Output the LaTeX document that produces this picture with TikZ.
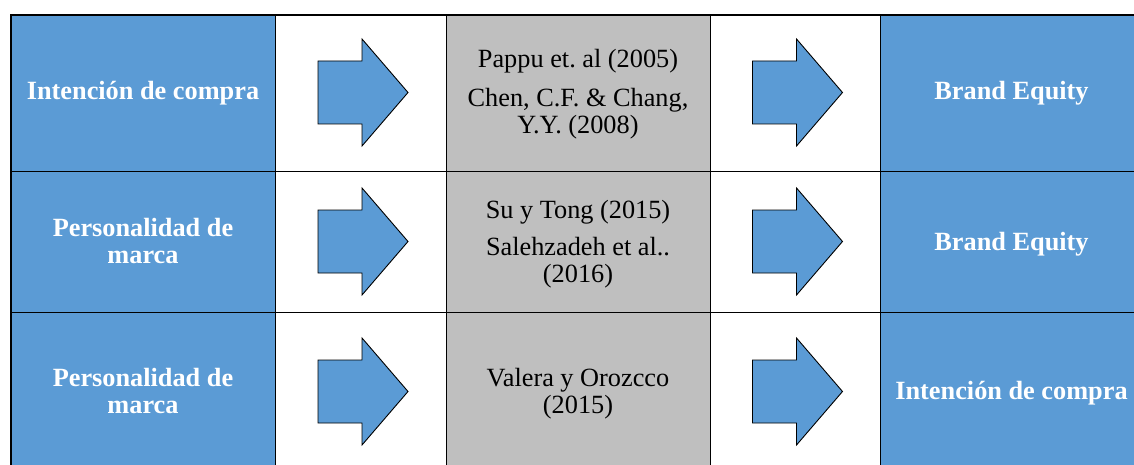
\documentclass[tikz,border=0pt]{standalone}
\usepackage{fontspec}
\setmainfont{Liberation Serif}
\definecolor{cellblue}{RGB}{91,155,213}
\definecolor{cellgray}{RGB}{191,191,191}
\frenchspacing
\begin{document}
\begin{tikzpicture}[x=1pt,y=-1pt,
  cell/.style={draw=black, line width=0.9pt, inner sep=0pt, outer sep=0pt, minimum height=#1},
  bluecell/.style={cell=#1, fill=cellblue},
  graycell/.style={cell=#1, fill=cellgray},
  whitecell/.style={cell=#1, fill=white},
  wtext/.style={text=white, font=\bfseries\fontsize{26.3}{27}\selectfont, inner sep=0pt, anchor=base},
  btext/.style={text=black, font=\fontsize{26.3}{27}\selectfont, inner sep=0pt, anchor=base},
  bluearrow/.pic={\draw[fill=cellblue, draw=black, line width=0.9pt, line join=miter]
     (-45,-31.5) -- (-1,-31.5) -- (-1,-53.5) -- (45,0) -- (-1,53.5) -- (-1,31.5) -- (-45,31.5) -- cycle;}
]
\useasboundingbox (0,0) rectangle (1134,465);
\clip (0,0) rectangle (1134,465);
\fill[white] (0,0) rectangle (1134,465);
% row 1 (y 15..171)
\node[bluecell=156, minimum width=264] (r1c1) at (143,93) {};
\node[whitecell=156, minimum width=171] (r1c2) at (360.5,93) {};
\node[graycell=156, minimum width=264] (r1c3) at (578,93) {};
\node[whitecell=156, minimum width=170] (r1c4) at (795,93) {};
\node[bluecell=156, minimum width=263] (r1c5) at (1011.5,93) {};
% row 2 (y 171..312)
\node[bluecell=141, minimum width=264] (r2c1) at (143,241.5) {};
\node[whitecell=141, minimum width=171] (r2c2) at (360.5,241.5) {};
\node[graycell=141, minimum width=264] (r2c3) at (578,241.5) {};
\node[whitecell=141, minimum width=170] (r2c4) at (795,241.5) {};
\node[bluecell=141, minimum width=263] (r2c5) at (1011.5,241.5) {};
% row 3 (y 312..471)
\node[bluecell=159, minimum width=264] (r3c1) at (143,391.5) {};
\node[whitecell=159, minimum width=171] (r3c2) at (360.5,391.5) {};
\node[graycell=159, minimum width=264] (r3c3) at (578,391.5) {};
\node[whitecell=159, minimum width=170] (r3c4) at (795,391.5) {};
\node[bluecell=159, minimum width=263] (r3c5) at (1011.5,391.5) {};
% outer frame
\draw[line width=1.6pt] (r1c1.north west) rectangle (r3c5.south east);
% arrows
\pic at (363,92.5) {bluearrow};
\pic at (797.5,92.5) {bluearrow};
\pic at (363,241.5) {bluearrow};
\pic at (797.5,241.5) {bluearrow};
\pic at (363,391.5) {bluearrow};
\pic at (797.5,391.5) {bluearrow};
% texts row 1
\node[wtext] (t11) at (143,100) {Intención de compra};
\node[btext] (t13a) at (578,68) {Pappu et. al (2005)};
\node[btext] (t13b) at (578,107) {Chen, C.F. \& Chang,};
\node[btext] (t13c) at (578,134) {Y.Y. (2008)};
\node[wtext] (t15) at (1011.5,100) {Brand Equity};
% texts row 2
\node[wtext] (t21a) at (143,236) {Personalidad de};
\node[wtext] (t21b) at (143,263) {marca};
\node[btext] (t23a) at (578,218) {Su y Tong (2015)};
\node[btext] (t23b) at (578,255) {Salehzadeh et al..};
\node[btext] (t23c) at (578,282) {(2016)};
\node[wtext] (t25) at (1011.5,250) {Brand Equity};
% texts row 3
\node[wtext] (t31a) at (143,386) {Personalidad de};
\node[wtext] (t31b) at (143,413) {marca};
\node[btext] (t33a) at (578,386) {Valera y Orozcco};
\node[btext] (t33b) at (578,413) {(2015)};
\node[wtext] (t35) at (1011.5,399) {Intención de compra};
\end{tikzpicture}
\end{document}
